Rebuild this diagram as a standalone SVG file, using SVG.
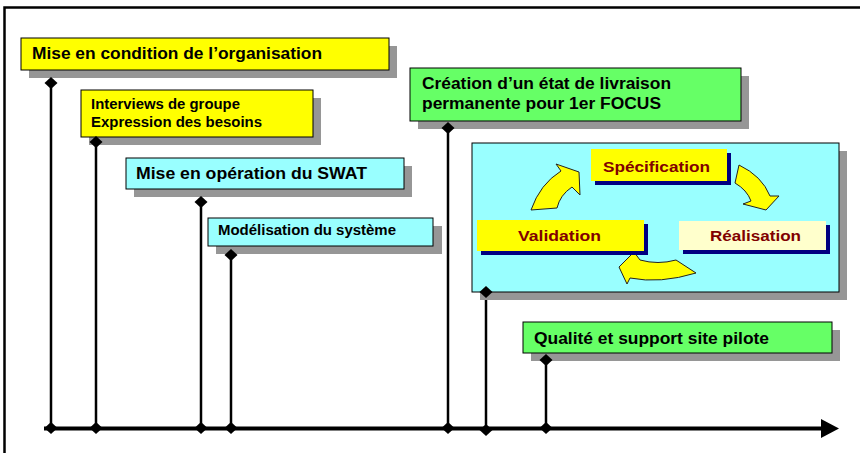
<svg xmlns="http://www.w3.org/2000/svg" width="860" height="453" viewBox="0 0 860 453">
<style>
  .t{font-family:"Liberation Sans",Arial,sans-serif;font-weight:bold;fill:#000}
  .r{font-family:"Liberation Sans",Arial,sans-serif;font-weight:bold;fill:#800000}
  .sh{fill:#969696}
  .nv{fill:#000080}
  .box{stroke:#000;stroke-width:1}
  .y{fill:#FFFF00}
  .c{fill:#99FFFF}
  .g{fill:#66FF66}
  .ln{stroke:#000;stroke-width:2.5;fill:none}
  .dm{fill:#000}
  .arr{fill:#FFFF00;stroke:#222;stroke-width:1;stroke-linejoin:round}
</style>
<defs>
  <path id="dia" d="M0,-6 L6.5,0 L0,6 L-6.5,0 Z"/>
</defs>
<rect x="0" y="0" width="860" height="453" fill="#fff"/>
<path d="M4.5,453 L4.5,7.5 L860,7.5" fill="none" stroke="#000" stroke-width="2.5"/>

<g id="connectors">
  <line class="ln" x1="51" y1="83" x2="51" y2="428"/>
  <line class="ln" x1="96" y1="142" x2="96" y2="428"/>
  <line class="ln" x1="201" y1="202" x2="201" y2="428"/>
  <line class="ln" x1="231" y1="255" x2="231" y2="428"/>
  <line class="ln" x1="448" y1="128" x2="448" y2="428"/>
  <line class="ln" x1="486" y1="292" x2="486" y2="430"/>
  <line class="ln" x1="546" y1="360" x2="546" y2="428"/>
  <line x1="44" y1="428.5" x2="824" y2="428.5" stroke="#000" stroke-width="4"/>
  <polygon points="839,428.5 821,419 821,438" fill="#000"/>
  <use href="#dia" x="51" y="428" class="dm"/>
  <use href="#dia" x="96" y="428" class="dm"/>
  <use href="#dia" x="201" y="428" class="dm"/>
  <use href="#dia" x="231" y="428" class="dm"/>
  <use href="#dia" x="448" y="428" class="dm"/>
  <use href="#dia" x="486" y="430" class="dm"/>
  <use href="#dia" x="546" y="428" class="dm"/>
</g>

<g id="n1">
  <rect class="sh" x="29" y="46" width="368" height="32"/>
  <rect class="box y" x="21" y="38" width="368" height="32"/>
  <text class="t" x="32" y="59" font-size="16" textLength="290" lengthAdjust="spacingAndGlyphs">Mise en condition de l’organisation</text>
  <use href="#dia" x="51" y="83" class="dm"/>
</g>

<g id="n2">
  <rect class="sh" x="89" y="98" width="232" height="47"/>
  <rect class="box y" x="81" y="90" width="232" height="47"/>
  <text class="t" x="91" y="109" font-size="14" textLength="149" lengthAdjust="spacingAndGlyphs">Interviews de groupe</text>
  <text class="t" x="91" y="127" font-size="14" textLength="171" lengthAdjust="spacingAndGlyphs">Expression des besoins</text>
  <use href="#dia" x="96" y="142" class="dm"/>
</g>

<g id="n3">
  <rect class="sh" x="134" y="166" width="278" height="31"/>
  <rect class="box c" x="126" y="158" width="278" height="31"/>
  <text class="t" x="136" y="179" font-size="16" textLength="231" lengthAdjust="spacingAndGlyphs">Mise en opération du SWAT</text>
  <use href="#dia" x="201" y="202" class="dm"/>
</g>

<g id="n4">
  <rect class="sh" x="216" y="226" width="226" height="28"/>
  <rect class="box c" x="208" y="218" width="225" height="28"/>
  <text class="t" x="218" y="235" font-size="14" textLength="178" lengthAdjust="spacingAndGlyphs">Modélisation du système</text>
  <use href="#dia" x="231" y="255" class="dm"/>
</g>

<g id="n5">
  <rect class="sh" x="418" y="76" width="331" height="53"/>
  <rect class="box g" x="410" y="68" width="331" height="53"/>
  <text class="t" x="422" y="89" font-size="16" textLength="249" lengthAdjust="spacingAndGlyphs">Création d’un état de livraison</text>
  <text class="t" x="422" y="109" font-size="16" textLength="239" lengthAdjust="spacingAndGlyphs">permanente pour 1er FOCUS</text>
  <use href="#dia" x="448" y="128" class="dm"/>
</g>

<g id="n6">
  <rect class="sh" x="480" y="151" width="367" height="149"/>
  <rect class="box c" x="472" y="143" width="367" height="149"/>
  <use href="#dia" x="486" y="292" class="dm"/>
</g>

<g id="cycle-arrows">
  <path class="arr" d="M531,210 Q540,184 561,171 L556,164 L579,172 L580,195 L572,187 Q560,195 557,208 Z"/>
  <path class="arr" d="M739,165 Q762,176 770,196 L779,196 L766,210 L743,204 L751,201 Q747,190 735,183 Z"/>
  <path class="arr" d="M696,273 Q660,284 630,278 L627,284 L619,267 L634,252 L640,260 Q658,265 676,260 Z"/>
</g>

<g id="n7">
  <rect class="nv" x="595" y="153" width="136" height="32"/>
  <rect class="y" x="591" y="149" width="136" height="32"/>
  <text class="r" x="603" y="172" font-size="14.5" textLength="107" lengthAdjust="spacingAndGlyphs">Spécification</text>
</g>

<g id="n8">
  <rect class="nv" x="481" y="224" width="167" height="31"/>
  <rect class="y" x="477" y="220" width="167" height="31"/>
  <text class="r" x="518" y="241" font-size="14.5" textLength="83" lengthAdjust="spacingAndGlyphs">Validation</text>
</g>

<g id="n9">
  <rect class="nv" x="683" y="225" width="147" height="29"/>
  <rect fill="#FFFFCC" x="679" y="221" width="147" height="29"/>
  <text class="r" x="710" y="241" font-size="14.5" textLength="91" lengthAdjust="spacingAndGlyphs">Réalisation</text>
</g>

<g id="n10">
  <rect class="sh" x="531" y="330" width="309" height="31"/>
  <rect class="box g" x="523" y="322" width="309" height="31"/>
  <text class="t" x="534" y="344" font-size="16" textLength="235" lengthAdjust="spacingAndGlyphs">Qualité et support site pilote</text>
  <use href="#dia" x="546" y="360" class="dm"/>
</g>
</svg>
